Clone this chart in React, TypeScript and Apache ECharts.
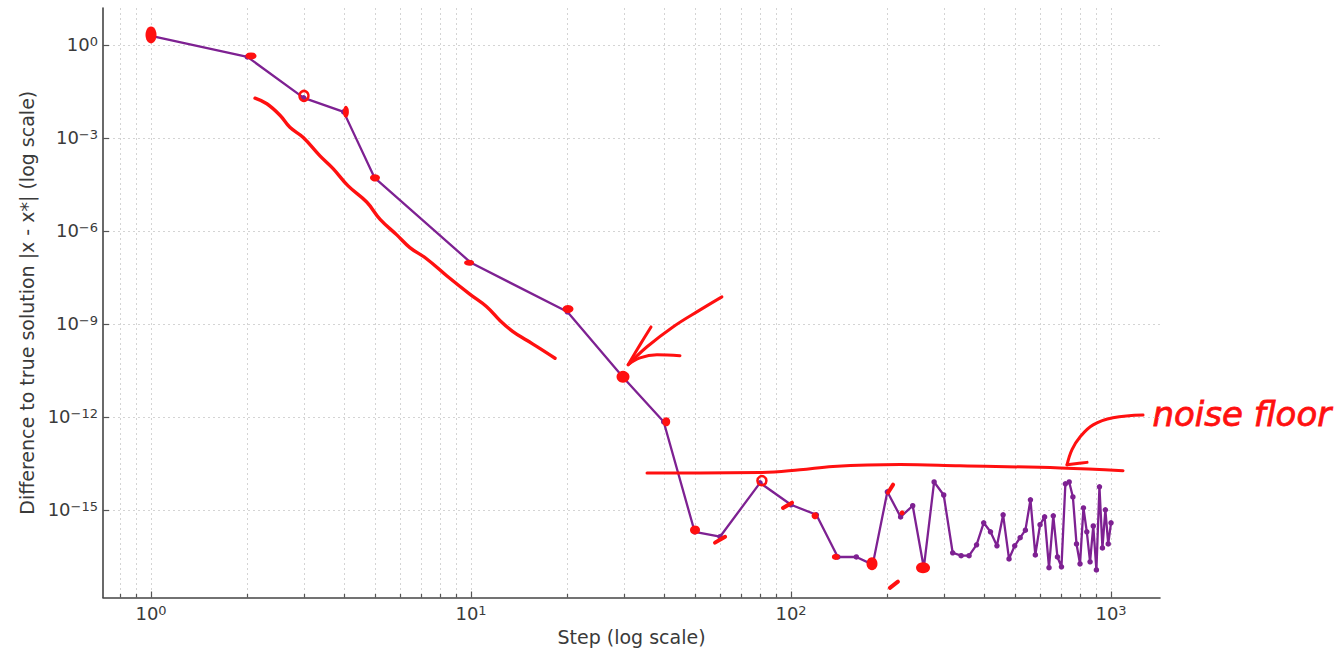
import React, { useEffect, useRef } from "react";
import * as echarts from "echarts";

// ---- data (step, |x - x*|) ----
const steps = [1, 2, 3, 4, 5, 10, 20, 30, 40, 50, 60, 80, 100, 120, 140, 160, 180, 200, 220, 240, 260, 280, 300, 320, 340, 360, 380, 400, 420, 440, 460, 480, 500, 520, 540, 560, 580, 600, 620, 640, 660, 680, 700, 720, 740, 760, 780, 800, 820, 840, 860, 880, 900, 920, 940, 960, 980, 1000];
const errors = [1.95, 0.41, 1.95e-2, 6.9e-3, 5.1e-5, 9.3e-8, 2.45e-9, 1.8e-11, 6.9e-13, 1.95e-16, 1.35e-16, 7.4e-15, 1.45e-15, 6.9e-16, 3.0e-17, 3.0e-17, 1.7e-17, 3.8e-15, 5.9e-16, 1.35e-15, 1.35e-17, 7.9e-15, 3.0e-15, 4.1e-17, 3.3e-17, 3.3e-17, 7.4e-17, 3.8e-16, 1.95e-16, 6.9e-17, 6.9e-16, 2.6e-17, 6.9e-17, 1.26e-16, 2.2e-16, 2.1e-15, 3.5e-17, 3.3e-16, 5.9e-16, 1.35e-17, 6.4e-16, 3.0e-17, 1.45e-17, 6.9e-15, 7.9e-15, 2.6e-15, 7.9e-17, 1.8e-17, 1.15e-15, 1.95e-16, 2.1e-17, 3.0e-16, 1.15e-17, 5.5e-15, 5.9e-17, 1.0e-15, 7.9e-17, 3.8e-16];

// ---- axes ticks ----
const xMajorSteps = [1, 10, 100, 1000];
const xMinorSteps = [0.8, 0.9, 2, 3, 4, 5, 6, 7, 8, 9, 20, 30, 40, 50, 60, 70, 80, 90, 200, 300, 400, 500, 600, 700, 800, 900];
const yMajorExps = [0, -3, -6, -9, -12, -15];
const xTitle = "Step (log scale)";
const yTitle = "Difference to true solution |x - x*| (log scale)";

// ---- hand-drawn red annotations, in log10 units [log10(step), log10(error)] ----
const trendStroke = [[0.325, -1.72], [0.362, -1.9], [0.403, -2.27], [0.434, -2.66], [0.475, -2.98], [0.528, -3.58], [0.569, -3.99], [0.616, -4.55], [0.674, -5.07], [0.716, -5.63], [0.768, -6.13], [0.809, -6.54], [0.861, -6.9], [0.924, -7.45], [0.997, -8.05], [1.049, -8.45], [1.091, -8.9], [1.131, -9.25], [1.174, -9.53], [1.216, -9.8], [1.2625, -10.11]];
const arrowShaft = [[1.784, -8.13], [1.716, -8.55], [1.631, -9.1], [1.55, -9.74], [1.491, -10.32]];
const arrowHead = [[1.5625, -9.1], [1.528, -9.68], [1.491, -10.32], [1.528, -10.1], [1.581, -10.0], [1.653, -10.03]];
const floorStroke = [[1.55, -13.81], [1.716, -13.81], [1.903, -13.8], [2.028, -13.71], [2.131, -13.6], [2.341, -13.54], [2.528, -13.58], [2.841, -13.65], [3.0375, -13.74]];
const floorArrow = [[3.1, -11.94], [3.006, -12.03], [2.944, -12.26], [2.903, -12.65], [2.878, -13.06], [2.8625, -13.55]];
const floorArrowHead = [[2.8625, -13.55], [2.9, -13.5], [2.925, -13.47]];
const dashStrokes = [
  [[1.7625, -16.06], [1.794, -15.87]],
  [[1.975, -14.94], [2.003, -14.77]],
  [[2.303, -14.45], [2.319, -14.19]],
  [[2.309, -17.52], [2.334, -17.32]],
];
// blobs: [log10(step), log10(err), width, height]
const redBlobs = [[0, 0.32, 11, 17], [0.3125, -0.355, 11, 7], [0.609, -2.16, 6, 12], [0.7, -4.29, 10, 7], [0.994, -7.03, 10, 6], [1.303, -8.52, 11, 8], [1.475, -10.71, 13, 12], [1.61, -12.16, 8, 9], [1.7, -15.65, 10, 9], [2.075, -15.19, 7, 7], [2.14, -16.52, 8, 6], [2.253, -16.74, 11, 13], [2.347, -15.1, 5, 5], [2.4125, -16.87, 14, 11]];
const redRings = [[0.478, -1.645, 9, 10], [1.909, -14.06, 9, 9]];
const noteText = "noise floor";

const X_MIN = -0.15, X_MAX = 3.153, Y_MIN = -17.83, Y_MAX = 1.19;
const PURPLE = "#7e2192";
const RED = "#ff1010";
const FONT = "DejaVu Sans";

const supLabel = (v: number) => {
  const n = Math.round(v);
  const s = n < 0 ? "\u2212" + Math.abs(n) : String(n);
  return `{b|10}{s|${s}}`;
};
const richStyle = {
  b: { fontSize: 18, fontFamily: FONT, color: "#3a3a3a", lineHeight: 20 },
  s: { fontSize: 13, fontFamily: FONT, color: "#3a3a3a", lineHeight: 9, verticalAlign: "top" },
};

export default function App() {
  const ref = useRef<HTMLDivElement>(null);
  useEffect(() => {
    if (!ref.current) return;
    const chart = echarts.init(ref.current, undefined, { renderer: "svg" });
    const mainData = steps.map((s, i) => [Math.log10(s), Math.log10(errors[i])]);
    const xGrid = [
      ...xMajorSteps.map((s) => [Math.log10(s), 0, 1]),
      ...xMinorSteps.map((s) => [Math.log10(s), 0, 0]),
    ];
    const yGrid = yMajorExps.map((e) => [0, e]);
    const redLine = (data: number[][], width = 3) => ({
      type: "line",
      data,
      symbol: "none",
      smooth: 0.4,
      silent: true,
      z: 6,
      lineStyle: { color: RED, width, cap: "round", join: "round", opacity: 1 },
    });

    chart.setOption({
      animation: false,
      grid: { left: 103, right: 183, top: 8, bottom: 54.5 },
      xAxis: {
        type: "value",
        min: X_MIN,
        max: X_MAX,
        splitNumber: 3,
        name: xTitle,
        nameLocation: "middle",
        nameGap: 30,
        nameTextStyle: { fontSize: 19, fontFamily: FONT, color: "#3a3a3a" },
        axisLine: { onZero: false, lineStyle: { color: "#444", width: 1.6 } },
        axisTick: { show: false },
        splitLine: { show: false },
        axisLabel: {
          showMinLabel: false,
          showMaxLabel: false,
          margin: 6,
          formatter: (v: number) => supLabel(v),
          rich: richStyle,
        },
      },
      yAxis: {
        type: "value",
        min: Y_MIN,
        max: Y_MAX,
        splitNumber: 5,
        name: yTitle,
        nameLocation: "middle",
        nameGap: 66,
        nameTextStyle: { fontSize: 19, fontFamily: FONT, color: "#3a3a3a" },
        axisLine: { onZero: false, lineStyle: { color: "#444", width: 1.6 } },
        axisTick: { show: false },
        splitLine: { show: false },
        axisLabel: {
          showMinLabel: false,
          showMaxLabel: false,
          margin: 5,
          formatter: (v: number) => supLabel(v),
          rich: richStyle,
        },
      },
      series: [
        {
          type: "custom",
          silent: true,
          z: 1,
          data: xGrid,
          encode: { x: 0, y: 1 },
          renderItem: (params: any, api: any) => {
            const cs = params.coordSys;
            const x = Math.round(api.coord([api.value(0), 0])[0]) + 0.5;
            const major = api.value(2) === 1;
            const bottom = cs.y + cs.height;
            return {
              type: "group",
              children: [
                { type: "line", shape: { x1: x, y1: cs.y, x2: x, y2: bottom }, style: { stroke: "#d4d4d4", lineWidth: 1, lineDash: [2, 3] } },
                { type: "line", shape: { x1: x, y1: bottom, x2: x, y2: bottom - (major ? 6 : 3.5) }, style: { stroke: "#555", lineWidth: 1.2 } },
              ],
            };
          },
        },
        {
          type: "custom",
          silent: true,
          z: 1,
          data: yGrid,
          encode: { x: 0, y: 1 },
          renderItem: (params: any, api: any) => {
            const cs = params.coordSys;
            const y = Math.round(api.coord([0, api.value(1)])[1]) + 0.5;
            return {
              type: "group",
              children: [
                { type: "line", shape: { x1: cs.x, y1: y, x2: cs.x + cs.width, y2: y }, style: { stroke: "#d4d4d4", lineWidth: 1, lineDash: [2, 3] } },
                { type: "line", shape: { x1: cs.x, y1: y, x2: cs.x + 6, y2: y }, style: { stroke: "#555", lineWidth: 1.2 } },
              ],
            };
          },
        },
        {
          type: "line",
          data: mainData,
          z: 3,
          symbol: "circle",
          symbolSize: 5.5,
          lineStyle: { color: PURPLE, width: 2.3 },
          itemStyle: { color: PURPLE, opacity: 1 },
        },
        redLine(trendStroke, 3.4),
        redLine(arrowShaft, 3),
        redLine(arrowHead, 3),
        redLine(floorStroke, 3),
        redLine(floorArrow, 3),
        redLine(floorArrowHead, 3),
        ...dashStrokes.map((d) => redLine(d, 4)),
        {
          type: "scatter",
          data: redBlobs,
          z: 5,
          silent: true,
          symbol: "circle",
          symbolSize: (v: number[]) => [v[2], v[3]],
          itemStyle: { color: RED, opacity: 1 },
        },
        {
          type: "scatter",
          data: redRings,
          z: 5,
          silent: true,
          symbol: "circle",
          symbolSize: (v: number[]) => [v[2], v[3]],
          itemStyle: { color: "rgba(0,0,0,0)", borderColor: RED, borderWidth: 2.5, opacity: 1 },
        },
      ],
      graphic: [
        {
          type: "text",
          left: 1152,
          top: 397,
          silent: true,
          style: {
            text: noteText,
            fill: RED,
            stroke: RED,
            lineWidth: 0.8,
            font: `italic 34px ${FONT}`,
          },
        },
      ],
    });
    return () => chart.dispose();
  }, []);
  return <div ref={ref} style={{ position: "absolute", left: 0, top: 0, width: 1343, height: 652 }} />;
}
